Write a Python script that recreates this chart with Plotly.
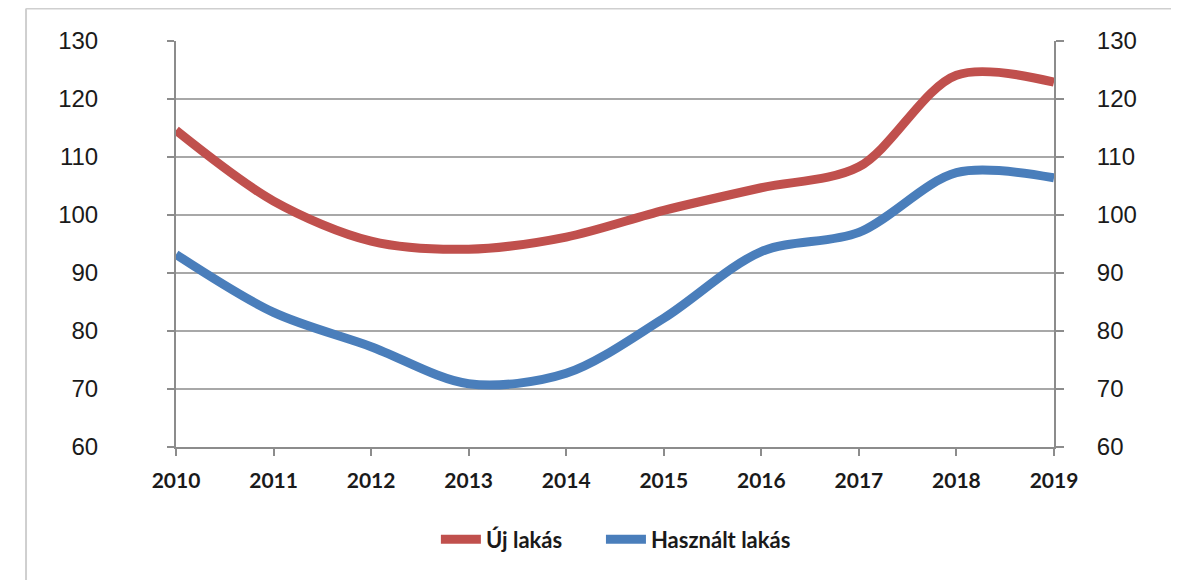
import plotly.graph_objects as go

years = [2010, 2011, 2012, 2013, 2014, 2015, 2016, 2017, 2018, 2019]
uj_lakas = [114.6, 102.4, 95.5, 94.1, 96.2, 100.8, 104.7, 108.3, 124.1, 122.9]
hasznalt_lakas = [93.2, 83.2, 77.3, 70.9, 72.7, 82.2, 93.7, 97.0, 107.3, 106.4]
y_ticks = [60, 70, 80, 90, 100, 110, 120, 130]

RED = "#c0504d"
BLUE = "#4a7ebb"
GRID = "#a8a8a8"
AXIS = "#8c8c8c"
TXT = "#1a1a1a"

fig = go.Figure()
fig.add_trace(go.Scatter(x=years, y=uj_lakas, name="Új lakás", mode="lines", legend="legend",
                         line=dict(color=RED, width=9, shape="spline", smoothing=0.9)))
fig.add_trace(go.Scatter(x=years, y=hasznalt_lakas, name="Használt lakás", mode="lines", legend="legend2",
                         line=dict(color=BLUE, width=9, shape="spline", smoothing=0.9)))
# invisible trace to activate the right axis
fig.add_trace(go.Scatter(x=years, y=uj_lakas, yaxis="y2", showlegend=False,
                         mode="lines", line=dict(width=0), opacity=0, hoverinfo="skip"))

legend_font = dict(family="Lato", size=22, color=TXT, weight="bold")

fig.update_layout(
    width=1179, height=580,
    margin=dict(l=168, r=133, t=33, b=141),
    paper_bgcolor="white", plot_bgcolor="white",
    showlegend=True,
    legend=dict(orientation="h", x=0.296, xanchor="left", y=-0.228, yanchor="middle",
                font=legend_font, itemwidth=40, bgcolor="rgba(0,0,0,0)"),
    legend2=dict(orientation="h", x=0.484, xanchor="left", y=-0.228, yanchor="middle",
                 font=legend_font, itemwidth=40, bgcolor="rgba(0,0,0,0)"),
    xaxis=dict(range=[2010, 2019], tickvals=years, ticktext=[str(y) for y in years],
               showgrid=False, showline=True, linecolor=AXIS, linewidth=2,
               ticks="outside", ticklen=7, tickwidth=2, tickcolor=AXIS,
               ticklabelstandoff=7,
               tickfont=dict(family="Lato", size=21, color=TXT, weight="bold"), zeroline=False),
    yaxis=dict(range=[60, 130], tickvals=y_ticks, showgrid=True, gridcolor=GRID, gridwidth=2,
               showline=True, linecolor=AXIS, linewidth=2,
               ticks="outside", ticklen=7, tickwidth=2, tickcolor=AXIS,
               ticklabelstandoff=64,
               tickfont=dict(family="Liberation Sans", size=24, color=TXT), zeroline=False),
    yaxis2=dict(range=[60, 130], tickvals=y_ticks, overlaying="y", side="right",
                showgrid=False, showline=True, linecolor=AXIS, linewidth=2,
                ticks="outside", ticklen=8, tickwidth=2, tickcolor=AXIS,
                ticklabelstandoff=28,
                tickfont=dict(family="Liberation Sans", size=24, color=TXT), zeroline=False),
)

# outer frame (left and top edges)
fig.add_shape(type="line", xref="paper", yref="paper", x0=-0.1708, x1=-0.1708, y0=1.080, y1=-0.35,
              line=dict(color="#cfcfcf", width=2))
fig.add_shape(type="line", xref="paper", yref="paper", x0=-0.1708, x1=1.1378, y0=1.080, y1=1.080,
              line=dict(color="#cfcfcf", width=2))

fig.write_html("out.html")
